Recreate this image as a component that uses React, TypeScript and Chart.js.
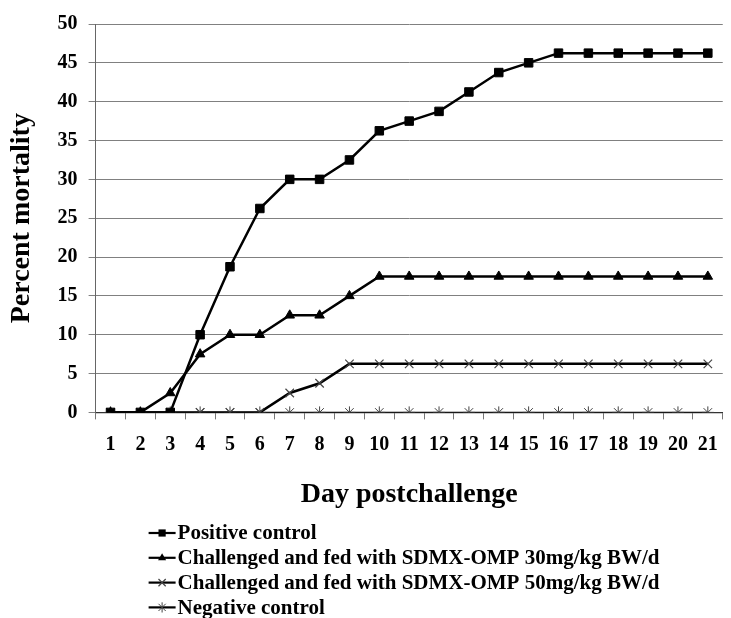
import React, { useEffect, useRef } from "react";
import { Chart, registerables } from "chart.js";

Chart.register(...registerables);

const days = ["1","2","3","4","5","6","7","8","9","10","11","12","13","14","15","16","17","18","19","20","21"];
const positiveControl = [0,0,0,10,18.75,26.25,30,30,32.5,36.25,37.5,38.75,41.25,43.75,45,46.25,46.25,46.25,46.25,46.25,46.25];
const fed30 = [0,0,2.5,7.5,10,10,12.5,12.5,15,17.5,17.5,17.5,17.5,17.5,17.5,17.5,17.5,17.5,17.5,17.5,17.5];
const fed50 = [0,0,0,0,0,0,2.5,3.75,6.25,6.25,6.25,6.25,6.25,6.25,6.25,6.25,6.25,6.25,6.25,6.25,6.25];
const negativeControl = [0,0,0,0,0,0,0,0,0,0,0,0,0,0,0,0,0,0,0,0,0];
const seriesLabels = [
  "Positive control",
  "Challenged and fed with SDMX-OMP 30mg/kg BW/d",
  "Challenged and fed with SDMX-OMP 50mg/kg BW/d",
  "Negative control",
];
const yTitle = "Percent mortality";
const xTitle = "Day postchallenge";

const FONT = "'Liberation Serif', 'Times New Roman', serif";

function drawMarker(ctx: CanvasRenderingContext2D, style: string, x: number, y: number, r: number) {
  ctx.beginPath();
  if (style === "rect") {
    const s = r * Math.SQRT1_2;
    ctx.rect(x - s, y - s, 2 * s, 2 * s);
    ctx.fill();
  } else if (style === "triangle") {
    ctx.moveTo(x, y - r);
    ctx.lineTo(x + 0.866 * r, y + 0.5 * r);
    ctx.lineTo(x - 0.866 * r, y + 0.5 * r);
    ctx.closePath();
    ctx.fill();
  } else if (style === "crossRot") {
    const o = r * Math.SQRT1_2;
    ctx.moveTo(x - o, y - o); ctx.lineTo(x + o, y + o);
    ctx.moveTo(x - o, y + o); ctx.lineTo(x + o, y - o);
    ctx.stroke();
  } else if (style === "star") {
    const o = r * Math.SQRT1_2;
    ctx.moveTo(x - o, y - o); ctx.lineTo(x + o, y + o);
    ctx.moveTo(x - o, y + o); ctx.lineTo(x + o, y - o);
    ctx.moveTo(x, y - r); ctx.lineTo(x, y + r);
    ctx.stroke();
  }
}

const stackedLegend = {
  id: "stackedLegend",
  afterDraw(chart: any) {
    const ctx: CanvasRenderingContext2D = chart.ctx;
    const top = chart.scales.x.bottom;
    const left = chart.chartArea.left;
    chart.data.datasets.forEach((ds: any, i: number) => {
      const y = top + 21 + i * 24.8;
      ctx.save();
      ctx.strokeStyle = "#000";
      ctx.lineWidth = 2.2;
      ctx.beginPath();
      ctx.moveTo(left + 53, y);
      ctx.lineTo(left + 80, y);
      ctx.stroke();
      ctx.fillStyle = ds.pointBackgroundColor;
      ctx.strokeStyle = ds.pointBorderColor;
      ctx.lineWidth = ds.pointBorderWidth;
      drawMarker(ctx, ds.pointStyle, left + 66.5, y, ds.pointRadius * 0.85);
      ctx.fillStyle = "#000";
      ctx.font = `bold 21px ${FONT}`;
      ctx.textBaseline = "middle";
      ctx.textAlign = "left";
      ctx.fillText(ds.label, left + 82, y + 1);
      ctx.restore();
    });
  },
};

export default function App() {
  const ref = useRef<HTMLCanvasElement>(null);
  useEffect(() => {
    if (!ref.current) return;
    const chart = new Chart(ref.current, {
      type: "line",
      data: {
        labels: days,
        datasets: [
          {
            label: seriesLabels[0], data: positiveControl,
            borderColor: "#000", borderWidth: 2.5,
            pointStyle: "rect", pointRadius: 6, pointBackgroundColor: "#000",
            pointBorderColor: "#000", pointBorderWidth: 1,
          },
          {
            label: seriesLabels[1], data: fed30,
            borderColor: "#000", borderWidth: 2.5,
            pointStyle: "triangle", pointRadius: 5.5, pointBackgroundColor: "#000",
            pointBorderColor: "#000", pointBorderWidth: 1,
          },
          {
            label: seriesLabels[2], data: fed50,
            borderColor: "#000", borderWidth: 2.5,
            pointStyle: "crossRot", pointRadius: 6, pointBackgroundColor: "#444",
            pointBorderColor: "#444", pointBorderWidth: 1.2,
          },
          {
            label: seriesLabels[3], data: negativeControl,
            borderColor: "#000", borderWidth: 1.5,
            pointStyle: "star", pointRadius: 6, pointBackgroundColor: "#444",
            pointBorderColor: "#444", pointBorderWidth: 1,
          },
        ] as any,
      },
      options: {
        animation: false,
        responsive: false,
        devicePixelRatio: 1,
        layout: { padding: { top: 24, right: 0, bottom: 106, left: 0 } },
        plugins: { legend: { display: false }, tooltip: { enabled: false } },
        elements: { line: { tension: 0 } },
        scales: {
          x: {
            type: "category",
            offset: true,
            grid: { display: true, drawOnChartArea: false, drawTicks: true, tickLength: 7, offset: true, color: "#777" },
            border: { display: true, color: "#333", width: 1.2 },
            ticks: { color: "#000", padding: 13, font: { family: FONT, size: 20, weight: "bold" }, maxRotation: 0, autoSkip: false },
            title: { display: true, text: xTitle, color: "#000", padding: { top: 9, bottom: 0 }, font: { family: FONT, size: 28, weight: "bold" } },
          },
          y: {
            min: 0, max: 50,
            ticks: { stepSize: 5, color: "#000", padding: 11, font: { family: FONT, size: 20, weight: "bold" } },
            grid: { color: "#808080", lineWidth: 1, tickLength: 7, drawTicks: true },
            border: { display: true, color: "#666", width: 1 },
            title: { display: true, text: yTitle, color: "#000", padding: { top: 5, bottom: 8 }, font: { family: FONT, size: 28, weight: "bold" } },
          },
        },
      },
      plugins: [stackedLegend],
    });
    return () => chart.destroy();
  }, []);
  return (
    <div style={{ position: "fixed", left: 0, top: 0, width: 731, height: 618, background: "#fff" }}>
      <canvas ref={ref} width={731} height={618} />
    </div>
  );
}
